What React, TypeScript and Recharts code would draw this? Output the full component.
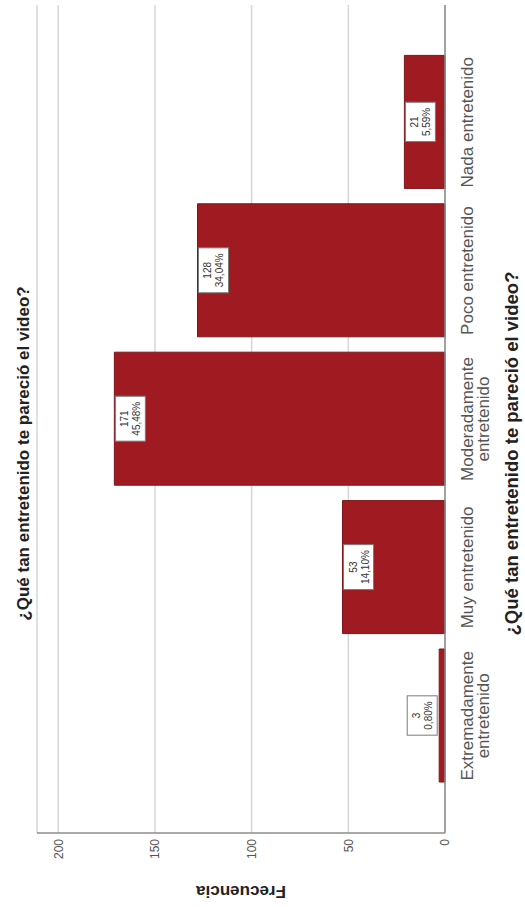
import { BarChart, Bar, XAxis, YAxis, CartesianGrid, LabelList } from 'recharts';

const categories = [
	'Extremadamente entretenido',
	'Muy entretenido',
	'Moderadamente entretenido',
	'Poco entretenido',
	'Nada entretenido',
];
const frequencies = [3, 53, 171, 128, 21];
const valueTicks = [0, 50, 100, 150, 200];

const total = frequencies.reduce((a, b) => a + b, 0);
const data = categories.map((name, i) => ({ name, freq: frequencies[i] }));

const FONT = '"Liberation Sans", Arial, sans-serif';

// the SPSS chart is stored rotated a quarter turn, so we draw it upright
// at 907x525 and turn the whole thing
const W = 907;
const H = 525;

const pct = (v: number) => ((v / total) * 100).toFixed(2).replace('.', ',') + '%';

const charW = (s: string, size: number) =>
	s.split('').reduce((w, c) => w + (c === ',' || c === '.' ? 0.278 : c === '%' ? 0.889 : 0.556), 0) * size;

const CategoryTick = ({ x, y, payload }: any) => {
	const text: string = payload.value;
	const cut = text.indexOf(' ');
	const lines = text.length > 20 ? [text.slice(0, cut), text.slice(cut + 1)] : [text];
	return (
		<text x={x} y={y} textAnchor="middle" fill="#555" fontSize={17} fontFamily={FONT}>
			{lines.map((l, i) => (
				<tspan key={i} x={x} dy={i === 0 ? 20 : 16}>
					{l}
				</tspan>
			))}
		</text>
	);
};

const BoxLabel = (props: any) => {
	const { x, y, width, height, value } = props;
	const bx = Number(x);
	const by = Number(y);
	const bw = Number(width);
	const bh = Number(height);
	const p = pct(Number(value));
	const boxW = Math.max(charW(p, 10), charW(String(value), 10)) + 11;
	const boxH = 30;
	const top = bh >= boxH + 4 ? by + 1 : by - 2 - boxH;
	const cx = bx + bw / 2;
	return (
		<g>
			<rect x={cx - boxW / 2} y={top} width={boxW} height={boxH} fill="#fff" stroke="#7a7a7a" strokeWidth={1} />
			<text x={cx} y={top + 13} textAnchor="middle" fontSize={10} fill="#333" fontFamily={FONT}>
				{value}
			</text>
			<text x={cx} y={top + 25} textAnchor="middle" fontSize={10} fill="#333" fontFamily={FONT}>
				{p}
			</text>
		</g>
	);
};

export default function App() {
	return (
		<div style={{ position: 'absolute', left: 0, top: 0, width: 525, height: 907, overflow: 'hidden', background: '#fff' }}>
			<div
				style={{
					position: 'absolute',
					left: 0,
					top: 0,
					width: W,
					height: H,
					transformOrigin: '0 0',
					transform: `translateY(${W}px) rotate(-90deg)`,
					fontFamily: FONT,
				}}
			>
				<div
					style={{
						position: 'absolute',
						left: 0,
						top: 14,
						width: W,
						textAlign: 'center',
						fontSize: 17,
						lineHeight: '20px',
						fontWeight: 'bold',
						color: '#222',
					}}
				>
					¿Qué tan entretenido te pareció el video?
				</div>
				<BarChart width={W} height={H} data={data} margin={{ top: 37, right: 5, bottom: 0, left: 0 }}>
					<CartesianGrid vertical={false} stroke="#d6d6d6" strokeWidth={1.5} />
					<XAxis
						dataKey="name"
						height={80}
						interval={0}
						padding={{ left: 43, right: 43 }}
						axisLine={{ stroke: '#8c8c8c', strokeWidth: 1.5 }}
						tickLine={false}
						tick={<CategoryTick />}
					/>
					<YAxis
						width={74}
						domain={[0, 211]}
						ticks={valueTicks}
						axisLine={{ stroke: '#8c8c8c', strokeWidth: 1.5 }}
						tickLine={false}
						tickSize={4}
						tickMargin={2}
						tick={{ fill: '#555', fontSize: 12, fontFamily: FONT }}
					/>
					<Bar dataKey="freq" fill="#9f1b21" stroke="#7d1519" strokeWidth={1} barSize={133} isAnimationActive={false}>
						<LabelList dataKey="freq" content={BoxLabel} />
					</Bar>
				</BarChart>
				<div
					style={{
						position: 'absolute',
						left: 0,
						top: 501,
						width: W,
						textAlign: 'center',
						fontSize: 18.5,
						lineHeight: '22px',
						fontWeight: 'bold',
						color: '#222',
					}}
				>
					¿Qué tan entretenido te pareció el video?
				</div>
				<div
					style={{
						position: 'absolute',
						left: 16,
						top: 241,
						width: 200,
						textAlign: 'center',
						fontSize: 17,
						lineHeight: '20px',
						fontWeight: 'bold',
						color: '#222',
						transform: 'translate(-50%, -50%) rotate(-90deg)',
					}}
				>
					Frecuencia
				</div>
			</div>
		</div>
	);
}
